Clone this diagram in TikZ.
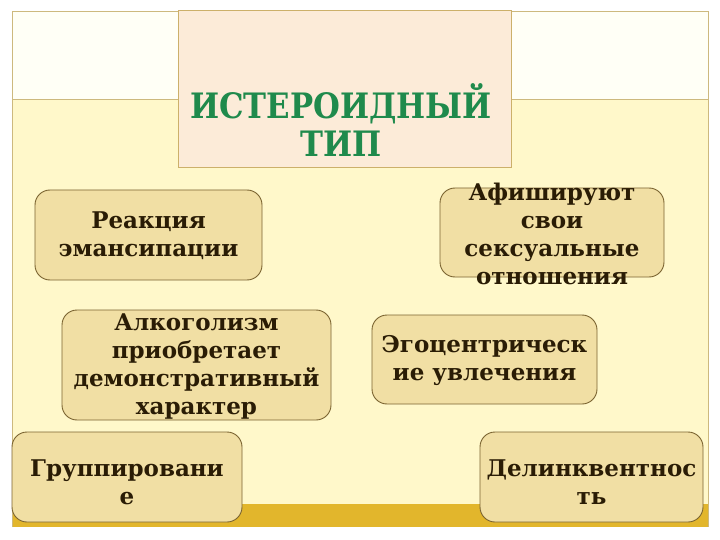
\documentclass[tikz,border=0pt]{standalone}
\usepackage{fontspec}
\setmainfont{DejaVu Serif}
\newfontfamily\titlefont[FakeStretch=0.88]{DejaVu Serif}
\definecolor{pale}{HTML}{FFF8CA}
\definecolor{topwhite}{HTML}{FFFFF6}
\definecolor{goldbar}{HTML}{E2B62C}
\definecolor{framec}{HTML}{CDB97E}
\definecolor{titlefill}{HTML}{FCEBD8}
\definecolor{titleedge}{HTML}{CCB06A}
\definecolor{titlegreen}{HTML}{1F8A4C}
\definecolor{boxfill}{HTML}{F1DFA4}
\definecolor{boxedge}{HTML}{7A6330}
\definecolor{boxtext}{HTML}{2A1C05}
\tikzset{
  box/.style={draw=boxedge, line width=0.9pt, fill=boxfill, rounded corners=15pt, inner sep=0pt},
  boxtxt/.style={align=center, inner sep=0pt, text=boxtext, font=\fontsize{23}{28}\selectfont\bfseries},
  titlebox/.style={draw=titleedge, line width=0.9pt, fill=titlefill, inner sep=0pt},
  titletxt/.style={align=center, inner sep=0pt, text=titlegreen, font=\titlefont\fontsize{35}{38}\selectfont\bfseries},
  frameline/.style={draw=framec, line width=1pt}
}
\begin{document}
\begin{tikzpicture}[x=1pt,y=-1pt]
\useasboundingbox (0,0) rectangle (720,540);
\fill[white] (0,0) rectangle (720,540);
\fill[topwhite] (12,12) rectangle (708,100);
\fill[pale] (12,100) rectangle (708,504);
\fill[goldbar] (12,504) rectangle (708,527);
\draw[frameline] (12,527) -- (12,12) -- (708,12) -- (708,527);
\draw[frameline] (12,100) -- (708,100);
% title
\node[titlebox, minimum width=333pt, minimum height=157pt] (title) at (344.5,88.5) {};
\node[titletxt] (titletext) at (341,120) {ИСТЕРОИДНЫЙ\\ТИП};
% boxes
\node[box, minimum width=227pt, minimum height=90pt] (b1) at (148.5,235) {};
\node[boxtxt] (t1) at (148.5,236) {Реакция\\эмансипации};
\node[box, minimum width=269pt, minimum height=110pt] (b2) at (196.5,365) {};
\node[boxtxt] (t2) at (196.5,367) {Алкоголизм\\приобретает\\демонстративный\\характер};
\node[box, minimum width=230pt, minimum height=90pt] (b3) at (127,477) {};
\node[boxtxt] (t3) at (127,482) {Группировани\\е};
\node[box, minimum width=224pt, minimum height=89pt] (b4) at (552,232.5) {};
\node[boxtxt] (t4) at (552,234) {Афишируют\\свои\\сексуальные\\отношения};
\node[box, minimum width=225pt, minimum height=89pt] (b5) at (484.5,359.5) {};
\node[boxtxt] (t5) at (484.5,361) {Эгоцентрическ\\ие увлечения};
\node[box, minimum width=223pt, minimum height=90pt] (b6) at (591.5,477) {};
\node[boxtxt] (t6) at (591.5,482) {Делинквентнос\\ть};
\end{tikzpicture}
\end{document}
